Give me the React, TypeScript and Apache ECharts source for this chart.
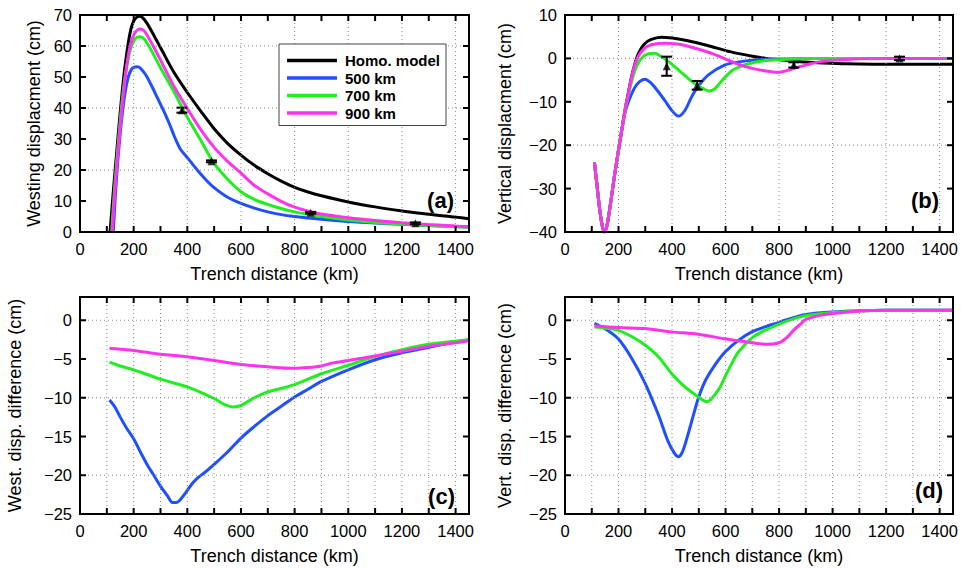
import React, { useEffect, useRef } from 'react';
import * as echarts from 'echarts';

const FONT = '"Liberation Sans", Arial, Helvetica, sans-serif';
const NAMES = ['Homo. model', '500 km', '700 km', '900 km'];
const COLORS = ['#000000', '#1f4fff', '#1ef01e', '#ff33ee'];

// ---------- Panel (a): westing displacement ----------
const A_HOMO_KM = [112, 125, 135, 146, 157, 167, 180, 190, 200, 212, 223, 235, 250, 275, 300, 350, 400, 450, 500, 550, 600, 650, 700, 750, 800, 850, 900, 1000, 1100, 1200, 1300, 1400, 1450];
const A_HOMO = [0, 14, 24, 35, 45, 53, 61, 65.5, 68, 69.3, 69.6, 69, 67.3, 63.5, 59.5, 51.5, 45, 39, 33.3, 28.6, 24.8, 21.5, 18.8, 16.4, 14.4, 12.9, 11.7, 9.7, 8.1, 6.8, 5.7, 4.8, 4.3];
const A_500_KM = [124, 132, 140, 150, 160, 170, 180, 190, 200, 215, 240, 265, 290, 315, 335, 350, 362, 375, 390, 400, 437, 470, 500, 550, 600, 650, 700, 750, 800, 900, 1000, 1100, 1200, 1300, 1400, 1450];
const A_500 = [0, 12, 22, 32, 40, 46, 50, 52.2, 53.1, 53.3, 51.3, 47.5, 43, 38.5, 34.5, 31.2, 28.8, 26.6, 25, 24, 20, 16.8, 14.3, 11.2, 9.2, 7.7, 6.5, 5.6, 5.0, 4.1, 3.4, 2.9, 2.5, 2.1, 1.8, 1.6];
const A_700_KM = [118, 128, 138, 148, 158, 168, 180, 190, 200, 212, 225, 240, 260, 300, 350, 385, 420, 450, 495, 550, 600, 650, 700, 750, 800, 850, 900, 1000, 1100, 1200, 1300, 1400, 1450];
const A_700 = [0, 13, 24, 34, 43, 50, 56, 59.5, 61.5, 62.8, 63, 62.2, 59.5, 53, 45.3, 39.4, 34, 29.6, 22.8, 17, 13, 10.5, 8.9, 7.6, 6.5, 5.7, 5.0, 3.9, 3.1, 2.6, 2.1, 1.7, 1.5];
const A_900_KM = [120, 130, 140, 150, 160, 170, 180, 190, 200, 212, 225, 240, 260, 300, 350, 403, 450, 500, 550, 600, 650, 700, 750, 800, 860, 900, 1000, 1100, 1200, 1300, 1400, 1450];
const A_900 = [0, 13, 24, 34, 43, 51, 57, 61, 63.5, 65, 65.5, 64.8, 62, 55.5, 47, 39.4, 33, 27.3, 22.8, 19, 15, 12.3, 9.9, 8.0, 6.5, 5.8, 4.6, 3.7, 3.0, 2.4, 1.9, 1.7];
const A_OBS_KM = [380, 490, 860, 1250];
const A_OBS = [39.3, 22.8, 6.2, 2.8];
const A_OBS_ERR = [0.8, 0.3, 0.3, 0.3];

// ---------- Panel (b): vertical displacement ----------
const B_HOMO_KM = [110, 120, 130, 140, 148, 157, 170, 185, 199, 212, 224, 237, 249, 260, 275, 295, 320, 360, 400, 450, 500, 550, 600, 650, 700, 750, 800, 850, 900, 964, 1050, 1150, 1450];
const B_HOMO = [-24, -29.5, -35, -38.8, -40, -38.5, -33.5, -27, -21.5, -16.5, -12, -7.8, -4.2, -1.5, 1.2, 3.2, 4.3, 4.9, 4.7, 4.2, 3.5, 2.7, 1.8, 1.1, 0.5, 0.0, -0.3, -0.6, -0.85, -1.05, -1.25, -1.33, -1.35];
const B_500_KM = [110, 120, 130, 140, 148, 157, 170, 185, 199, 212, 224, 237, 249, 262, 280, 299, 320, 345, 374, 399, 424, 448, 473, 498, 536, 598, 650, 698, 797, 900, 1000, 1450];
const B_500 = [-24, -29.5, -35, -38.8, -40, -38.5, -33.5, -27, -21.5, -16.8, -12.6, -10, -8.2, -6.6, -5.3, -4.8, -5.6, -7.4, -9.8, -12, -13.3, -12, -8.9, -6.4, -3.8, -1.5, -0.8, -0.4, -0.15, -0.05, 0, 0];
const B_700_KM = [110, 120, 130, 140, 148, 157, 170, 185, 199, 212, 224, 237, 249, 262, 280, 300, 320, 336, 355, 380, 410, 430, 460, 494, 520, 540, 560, 580, 600, 625, 650, 700, 750, 800, 900, 1000, 1450];
const B_700 = [-24, -29.5, -35, -38.8, -40, -38.5, -33.5, -27, -21.5, -16.6, -12.2, -8.5, -5.3, -2.6, -0.4, 0.8, 1.15, 1.2, 0.6, -0.4, -1.9, -3.0, -4.6, -6.2, -7.1, -7.5, -7.0, -5.6, -4.2, -2.8, -2.0, -1.0, -0.5, -0.3, -0.05, 0, 0];
const B_900_KM = [110, 120, 130, 140, 148, 157, 170, 185, 199, 212, 224, 237, 249, 262, 275, 295, 320, 350, 374, 420, 460, 500, 550, 598, 650, 700, 750, 796, 830, 860, 903, 950, 1028, 1100, 1200, 1450];
const B_900 = [-24, -29.5, -35, -38.8, -40, -38.5, -33.5, -27, -21.5, -16.5, -12, -7.9, -4.3, -1.3, 0.6, 2.2, 3.1, 3.45, 3.5, 3.3, 2.8, 2.1, 1.1, -0.1, -1.4, -2.3, -2.9, -3.2, -2.8, -2.2, -1.5, -0.8, -0.35, -0.1, 0, 0];
const B_OBS_KM = [380, 494, 855, 1250];
const B_OBS = [-1.8, -6.2, -1.5, 0];
const B_OBS_ERR = [2.2, 1.0, 0.6, 0.4];

// ---------- Panel (c): westing displacement difference ----------
const C_500_KM = [110, 130, 150, 175, 200, 225, 250, 275, 300, 325, 345, 360, 375, 395, 420, 440, 470, 500, 550, 600, 650, 700, 750, 800, 850, 900, 1000, 1100, 1200, 1300, 1400, 1450];
const C_500 = [-10.3, -11.2, -12.5, -14, -15.3, -17, -18.6, -20, -21.4, -22.6, -23.5, -23.5, -23.1, -22.2, -21, -20.3, -19.5, -18.6, -17, -15.2, -13.7, -12.3, -11.1, -9.9, -8.9, -7.9, -6.4, -5.1, -4.2, -3.5, -2.8, -2.5];
const C_700_KM = [110, 150, 200, 250, 300, 350, 400, 450, 500, 540, 571, 600, 625, 650, 695, 750, 800, 850, 900, 1000, 1100, 1200, 1300, 1400, 1450];
const C_700 = [-5.4, -5.9, -6.4, -7.0, -7.6, -8.1, -8.6, -9.3, -10.1, -10.9, -11.2, -11.0, -10.5, -10.0, -9.3, -8.8, -8.3, -7.6, -6.9, -5.8, -4.7, -3.8, -3.1, -2.7, -2.5];
const C_900_KM = [110, 200, 300, 400, 500, 600, 700, 798, 850, 900, 943, 1000, 1100, 1200, 1300, 1400, 1450];
const C_900 = [-3.6, -3.9, -4.4, -4.7, -5.2, -5.7, -6.0, -6.2, -6.1, -5.9, -5.5, -5.2, -4.6, -4.0, -3.35, -2.9, -2.65];

// ---------- Panel (d): vertical displacement difference ----------
const D_500_KM = [110, 150, 199, 249, 299, 349, 386, 410, 424, 436, 448, 473, 498, 523, 560, 598, 648, 698, 747, 797, 822, 900, 1000, 1100, 1200, 1450];
const D_500 = [-0.4, -1.1, -2.4, -4.9, -8.1, -12.2, -15.7, -17.2, -17.6, -17.2, -16.1, -13.1, -10.1, -7.9, -5.8, -4.1, -2.6, -1.5, -0.86, -0.3, 0, 0.75, 1.07, 1.24, 1.3, 1.3];
const D_700_KM = [110, 150, 199, 249, 299, 349, 399, 448, 498, 520, 533, 545, 560, 580, 598, 623, 648, 698, 747, 822, 900, 1000, 1100, 1200, 1450];
const D_700 = [-0.86, -1.0, -1.3, -2.1, -3.2, -4.7, -6.9, -8.6, -9.9, -10.4, -10.5, -10.2, -9.6, -8.6, -7.3, -5.6, -4.1, -2.3, -1.3, -0.2, 0.6, 1.0, 1.2, 1.3, 1.3];
const D_900_KM = [110, 199, 299, 399, 498, 598, 698, 760, 800, 830, 854, 880, 900, 950, 1000, 1100, 1200, 1450];
const D_900 = [-0.7, -0.94, -1.07, -1.5, -1.8, -2.4, -2.9, -3.1, -2.9, -2.2, -1.3, -0.5, 0.1, 0.6, 0.86, 1.2, 1.3, 1.3];

// ---------- Ticks and grid lines ----------
const X_MIN = 0;
const X_MAX = 1450;
const X_STEP = 100;
const X_LABEL_STEP = 200;
const X_TICKS = [0, 100, 200, 300, 400, 500, 600, 700, 800, 900, 1000, 1100, 1200, 1300, 1400];
const X_GRID_AB = [200, 400, 600, 800, 1000, 1200, 1400];
const X_GRID_CD = [100, 200, 300, 400, 500, 600, 700, 800, 900, 1000, 1100, 1200, 1300, 1400];
const Y_TICKS_A = [0, 10, 20, 30, 40, 50, 60, 70];
const Y_GRID_A = [20, 40, 60];
const Y_TICKS_B = [-40, -30, -20, -10, 0, 10];
const Y_GRID_B = [-20, 0];
const Y_TICKS_CD = [-25, -20, -15, -10, -5, 0];
const Y_GRID_CD = [-20, -10, 0];
const GG = '#8a8a8a';

type Curve = { idx: number; km: number[]; v: number[] };

const PANELS: any[] = [
  { grid: { left: 80, top: 15, width: 389, height: 217 }, yMin: 0, yMax: 70, yStep: 10, yName: 'Westing displacment (cm)', nameGap: 37,
    xGrid: X_GRID_AB, yTicks: Y_TICKS_A, yGrid: Y_GRID_A, tag: '(a)', tagPos: [454, 200],
    curves: [{ idx: 0, km: A_HOMO_KM, v: A_HOMO }, { idx: 1, km: A_500_KM, v: A_500 }, { idx: 2, km: A_700_KM, v: A_700 }, { idx: 3, km: A_900_KM, v: A_900 }] as Curve[],
    obs: { km: A_OBS_KM, v: A_OBS, e: A_OBS_ERR } },
  { grid: { left: 565, top: 15, width: 388, height: 217 }, yMin: -40, yMax: 10, yStep: 10, yName: 'Vertical displacment (cm)', nameGap: 51,
    xGrid: X_GRID_AB, yTicks: Y_TICKS_B, yGrid: Y_GRID_B, tag: '(b)', tagPos: [939, 200],
    curves: [{ idx: 0, km: B_HOMO_KM, v: B_HOMO }, { idx: 1, km: B_500_KM, v: B_500 }, { idx: 2, km: B_700_KM, v: B_700 }, { idx: 3, km: B_900_KM, v: B_900 }] as Curve[],
    obs: { km: B_OBS_KM, v: B_OBS, e: B_OBS_ERR } },
  { grid: { left: 80, top: 297, width: 389, height: 217 }, yMin: -25, yMax: 3, yStep: 5, yName: 'West. disp. difference (cm)', nameGap: 56,
    xGrid: X_GRID_CD, yTicks: Y_TICKS_CD, yGrid: Y_GRID_CD, tag: '(c)', tagPos: [455, 496],
    curves: [{ idx: 1, km: C_500_KM, v: C_500 }, { idx: 2, km: C_700_KM, v: C_700 }, { idx: 3, km: C_900_KM, v: C_900 }] as Curve[], obs: null },
  { grid: { left: 565, top: 297, width: 388, height: 217 }, yMin: -25, yMax: 3, yStep: 5, yName: 'Vert. disp. difference (cm)', nameGap: 51,
    xGrid: X_GRID_CD, yTicks: Y_TICKS_CD, yGrid: Y_GRID_CD, tag: '(d)', tagPos: [943, 490],
    curves: [{ idx: 1, km: D_500_KM, v: D_500 }, { idx: 2, km: D_700_KM, v: D_700 }, { idx: 3, km: D_900_KM, v: D_900 }] as Curve[], obs: null },
];

const minus = (s: string) => s.replace('-', '\u2212');
const TICK_LEN = 6;
const INK = { stroke: '#000', lineWidth: 2 };

const seg = (a: number[], b: number[], style: any) => ({ type: 'line', shape: { x1: a[0], y1: a[1], x2: b[0], y2: b[1] }, style });

const renderErr = (_p: any, api: any) => {
  const x = api.value(0), y = api.value(1), e = api.value(2);
  const hi = api.coord([x, y + e]);
  const lo = api.coord([x, y - e]);
  const h = 5.5;
  return { type: 'group', children: [seg(hi, lo, INK), seg([hi[0] - h, hi[1]], [hi[0] + h, hi[1]], INK), seg([lo[0] - h, lo[1]], [lo[0] + h, lo[1]], INK)] };
};

function buildOption() {
  const labelStyle = { fontFamily: FONT, fontSize: 16.5, color: '#000' };
  const nameStyle = { fontFamily: FONT, fontSize: 18, color: '#000' };
  const grid: any[] = [];
  const xAxis: any[] = [];
  const yAxis: any[] = [];
  const series: any[] = [];

  PANELS.forEach((p, k) => {
    grid.push({ ...p.grid });
    xAxis.push({
      type: 'value', gridIndex: k, position: 'bottom', min: X_MIN, max: X_MAX, interval: X_STEP,
      name: 'Trench distance (km)', nameLocation: 'middle', nameGap: 33, nameTextStyle: nameStyle,
      axisLine: { show: false, onZero: false }, axisTick: { show: false }, splitLine: { show: false },
      axisLabel: { ...labelStyle, margin: 8, formatter: (v: number) => (v % X_LABEL_STEP === 0 ? String(v) : '') },
    });
    yAxis.push({
      type: 'value', gridIndex: k, position: 'left', min: p.yMin, max: p.yMax, interval: p.yStep,
      name: p.yName, nameLocation: 'middle', nameGap: p.nameGap, nameRotate: 90, nameTextStyle: nameStyle,
      axisLine: { show: false, onZero: false }, axisTick: { show: false }, splitLine: { show: false },
      axisLabel: { ...labelStyle, margin: 8, formatter: (v: number) => (Math.abs(v % p.yStep) < 1e-9 ? minus(String(v)) : '') },
    });
    (p.curves as Curve[]).forEach((c) => {
      series.push({ type: 'line', name: NAMES[c.idx], xAxisIndex: k, yAxisIndex: k,
        data: c.km.map((x, i) => [x, c.v[i]]), showSymbol: false, symbol: 'none', smooth: 0.3, z: 2,
        color: COLORS[c.idx], lineStyle: { color: COLORS[c.idx], width: 3 } });
    });
    if (p.obs) {
      const o = p.obs;
      series.push({ type: 'custom', xAxisIndex: k, yAxisIndex: k, silent: true, clip: false, encode: { x: 0, y: 1 }, z: 5,
        data: o.km.map((x: number, i: number) => [x, o.v[i], o.e[i]]), renderItem: renderErr });
      series.push({ type: 'scatter', xAxisIndex: k, yAxisIndex: k, z: 6, silent: true,
        data: o.km.map((x: number, i: number) => [x, o.v[i]]), symbol: 'triangle', symbolSize: 8, itemStyle: { color: '#000' } });
    }
  });

  return {
    animation: false,
    grid, xAxis, yAxis, series,
    legend: {
      show: true, data: NAMES, left: 279, top: 44, orient: 'vertical',
      itemWidth: 50, itemHeight: 3.5, itemGap: 2.5, icon: 'rect',
      padding: [9, 6, 5, 8], borderColor: '#444', borderWidth: 1, backgroundColor: '#fff',
      selectedMode: false, z: 120,
      textStyle: { fontFamily: FONT, fontSize: 15, fontWeight: 'bold', color: '#000', lineHeight: 15, padding: [0, 0, 0, 3] },
    },
  };
}

// Frame, inward ticks and dotted grid lines, positioned through the chart's own scales.
function buildDecorations(chart: any) {
  const out: any[] = [];
  PANELS.forEach((p, k) => {
    const px = (x: number, y: number): number[] | null => {
      const r = chart.convertToPixel({ gridIndex: k }, [x, y]);
      return Array.isArray(r) ? r : null;
    };
    const lb = px(X_MIN, p.yMin);
    const rt = px(X_MAX, p.yMax);
    if (!lb || !rt) return;
    (p.xGrid as number[]).forEach((v) => {
      const a = px(v, p.yMin), b = px(v, p.yMax);
      if (a && b) out.push({ ...seg(a, b, { stroke: GG, lineWidth: 1, lineDash: [1, 3] }), z: 90, silent: true });
    });
    (p.yGrid as number[]).forEach((v) => {
      const a = px(X_MIN, v), b = px(X_MAX, v);
      if (a && b) out.push({ ...seg(a, b, { stroke: GG, lineWidth: 1, lineDash: [1, 3] }), z: 90, silent: true });
    });
    X_TICKS.forEach((v) => {
      const b = px(v, p.yMin), t = px(v, p.yMax);
      if (b && t) {
        out.push({ ...seg(b, [b[0], b[1] - TICK_LEN], INK), z: 100, silent: true });
        out.push({ ...seg(t, [t[0], t[1] + TICK_LEN], INK), z: 100, silent: true });
      }
    });
    (p.yTicks as number[]).forEach((v) => {
      const l = px(X_MIN, v), r = px(X_MAX, v);
      if (l && r) {
        out.push({ ...seg(l, [l[0] + TICK_LEN, l[1]], INK), z: 100, silent: true });
        out.push({ ...seg(r, [r[0] - TICK_LEN, r[1]], INK), z: 100, silent: true });
      }
    });
    out.push({ type: 'rect', z: 101, silent: true,
      shape: { x: lb[0], y: rt[1], width: rt[0] - lb[0], height: lb[1] - rt[1] },
      style: { fill: 'none', stroke: '#000', lineWidth: 2 } });
    out.push({ type: 'text', x: p.tagPos[0], y: p.tagPos[1], z: 130, silent: true,
      style: { text: p.tag, fill: '#000', font: `bold 22px ${FONT}`, textAlign: 'right', textVerticalAlign: 'middle' } });
  });
  return out;
}

export default function App() {
  const ref = useRef<HTMLDivElement>(null);
  useEffect(() => {
    document.body.style.margin = '0';
    if (!ref.current) return;
    const chart = echarts.init(ref.current, null, { renderer: 'svg' });
    chart.setOption(buildOption() as any);
    chart.setOption({ graphic: buildDecorations(chart) } as any);
    return () => chart.dispose();
  }, []);
  return <div ref={ref} style={{ width: 969, height: 569, background: '#fff' }} />;
}
